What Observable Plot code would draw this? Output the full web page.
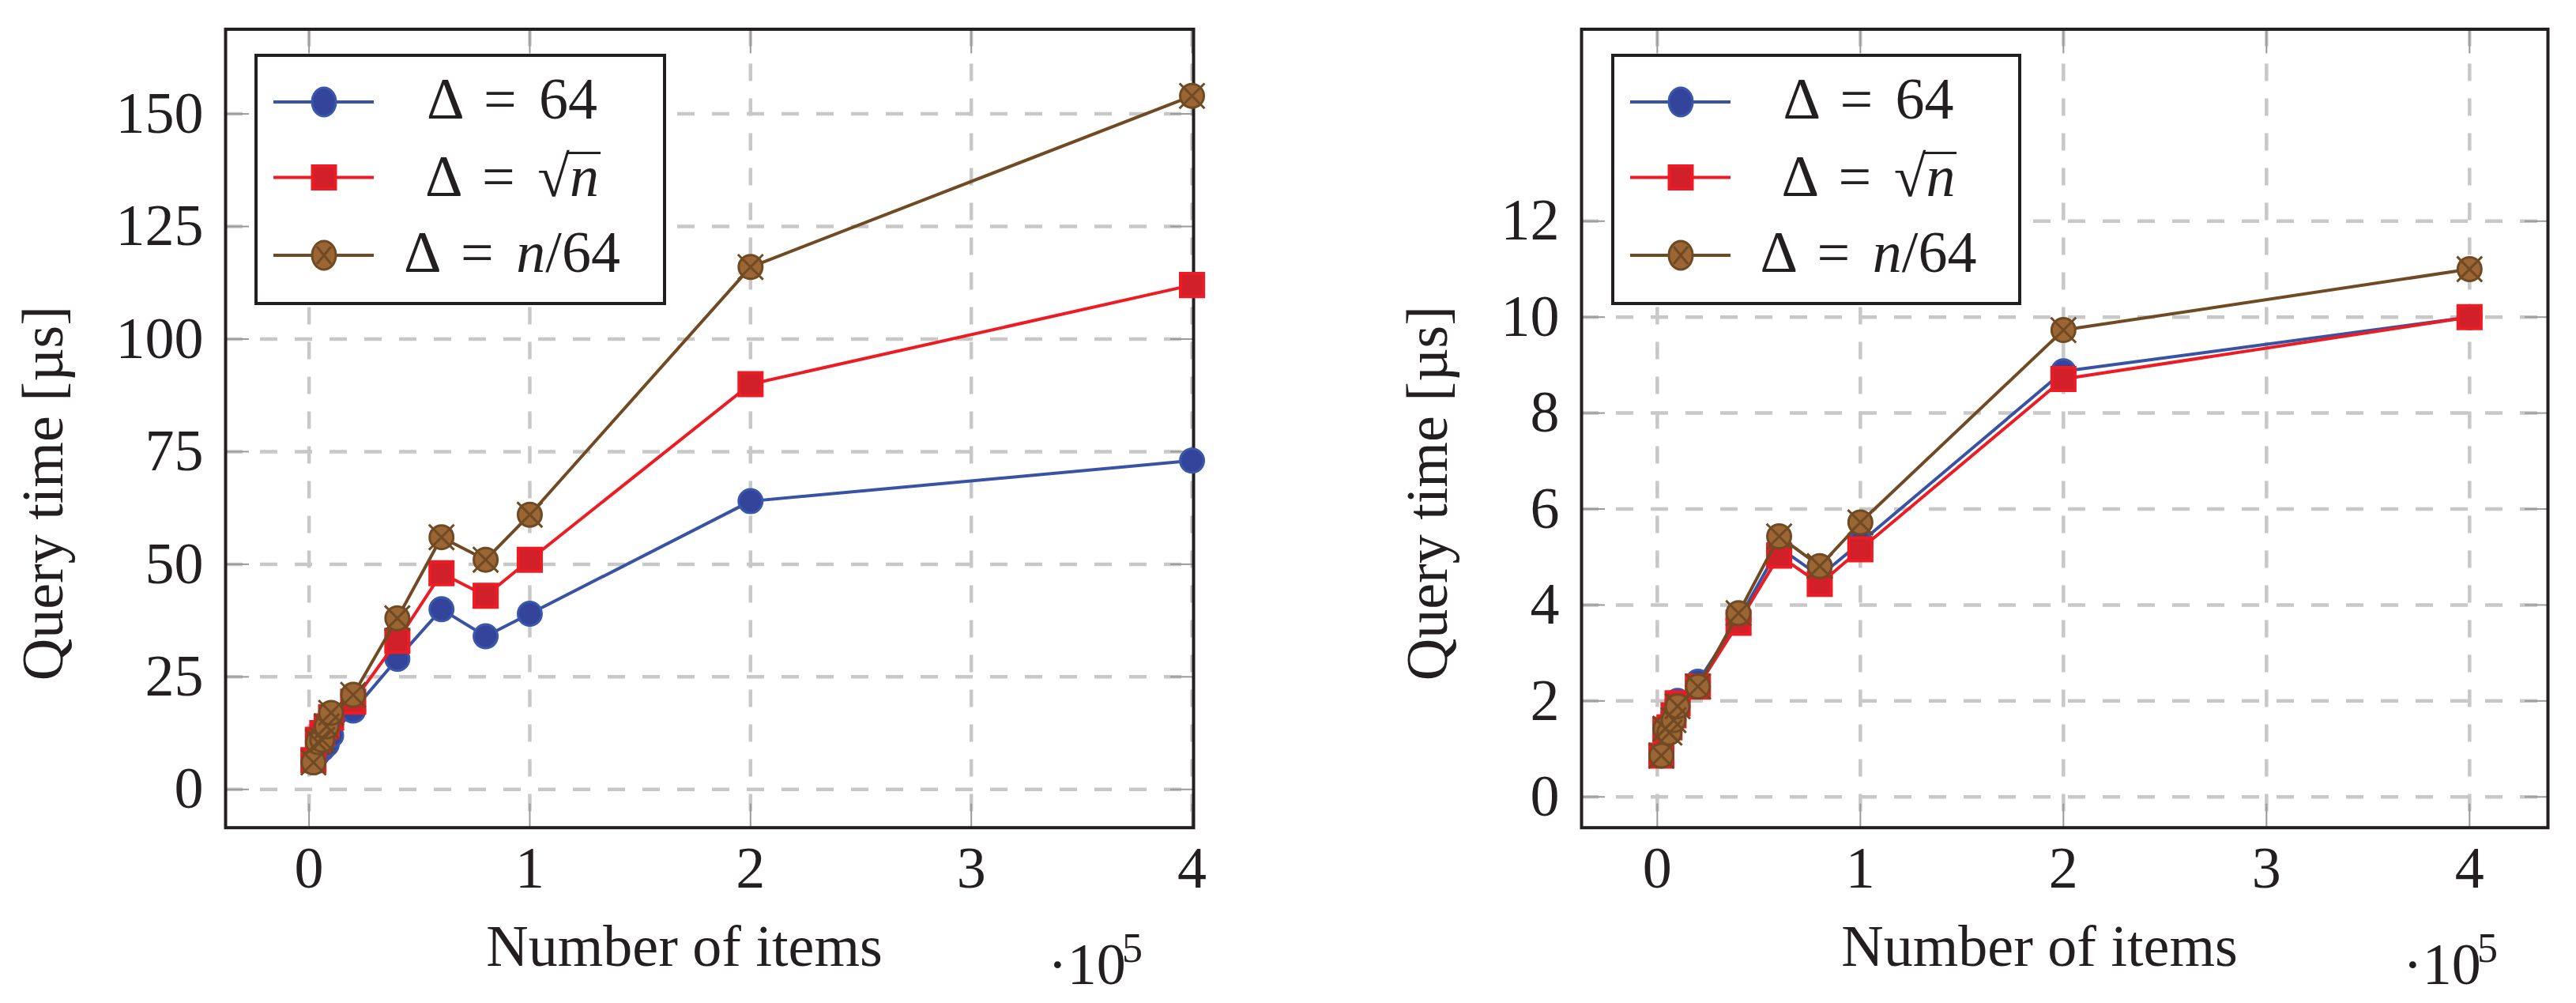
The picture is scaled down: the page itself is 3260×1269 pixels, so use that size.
<!DOCTYPE html>
<html>
<head>
<meta charset="utf-8">
<script src="https://cdn.jsdelivr.net/npm/d3@7"></script>
<script src="https://cdn.jsdelivr.net/npm/@observablehq/plot@0.6"></script>
<style>
  body { margin: 0; background: #fff; }
  #wrap { position: relative; width: 3260px; height: 1269px; overflow: hidden;
          font-family: "Liberation Serif", "DejaVu Serif", serif; color: #231f20; }
  .panel { position: absolute; top: 0; }
  .panel svg text { font-variant-numeric: normal; }
  .legend { position: absolute; top: 68px; height: 318px; border: 4px solid #231f20;
            background: #fff; box-sizing: border-box; }
  .legend svg { position: absolute; left: 0; top: 0; overflow: visible; }
  .ltext { position: absolute; font-size: 74px; line-height: 74px; white-space: nowrap;
           transform: translateX(-50%); word-spacing: 10px; }
  .ov { position: relative; font-style: italic; }
  .ov::before { content: ""; position: absolute; left: -2px; right: -2px; top: 10px;
                border-top: 3.5px solid #231f20; }
  .sci { position: absolute; font-size: 74px; line-height: 74px; white-space: nowrap; }
  .sciexp { position: absolute; font-size: 52px; line-height: 52px; white-space: nowrap; }
</style>
</head>
<body>
<div id="wrap"></div>
<script>
// ---------- data ----------
const items = [2000, 4000, 6000, 8000, 10000, 20000, 40000, 60000, 80000, 100000, 200000, 400000];
const seriesLabels = ["Δ = 64", "Δ = √n", "Δ = n/64"];

// left panel (query time, µs)
const leftDelta64   = [6, 8, 9, 10, 12, 17.5, 29, 40, 34, 39, 64, 73];
const leftDeltaSqrt = [6.5, 11, 12.5, 14, 16, 19.5, 33, 48, 43, 51, 90, 112];
const leftDeltaN64  = [6, 10.5, 11, 14, 17, 21, 38, 56, 51, 61, 116, 154];

// right panel (query time, µs)
const rightDelta64   = [0.9, 1.45, 1.5, 1.75, 2.0, 2.4, 3.7, 5.2, 4.6, 5.3, 8.87, 10.0];
const rightDeltaSqrt = [0.86, 1.4, 1.45, 1.7, 1.95, 2.3, 3.63, 5.03, 4.44, 5.16, 8.71, 10.0];
const rightDeltaN64  = [0.86, 1.42, 1.34, 1.6, 1.89, 2.3, 3.83, 5.43, 4.81, 5.72, 9.73, 11.0];

const xTicks = [0, 100000, 200000, 300000, 400000];
const leftYTicks = [0, 25, 50, 75, 100, 125, 150];
const rightYTicks = [0, 2, 4, 6, 8, 10, 12];

const xLabel = "Number of items";
const yLabel = "Query time [µs]";
const xScaleNote = ["·10", "5"];

// ---------- styles ----------
const lineColors = ["#3853a4", "#ed1c24", "#6f4a23"];
const fillColors = ["#34449b", "#d1202a", "#9b6633"];
const edgeColors = ["#3a58aa", "#ed1c24", "#6f4a23"];
const ink = "#231f20";
const FONT = 74;

function rowsOf(seriesValues) {
  const rows = [];
  seriesValues.forEach((vals, s) => vals.forEach((t, i) => rows.push({n: items[i], t, s})));
  return rows;
}

function makePanel({values, yTicks, xDomain, yDomain, width, marginLeft, marginRight, ylabDx}) {
  const rows = rowsOf(values);
  const tickStyle = {stroke: "#9a9a9a", strokeWidth: 2, tickFormat: () => "", label: null};
  const gridStyle = {stroke: "#c8c8c8", strokeOpacity: 1, strokeWidth: 4.5, strokeDasharray: "22,22"};
  const marks = [
    Plot.gridX(xTicks, gridStyle),
    Plot.gridY(yTicks, gridStyle),
    Plot.axisX(xTicks, {anchor: "bottom", tickSize: 30, dy: -30, ...tickStyle}),
    Plot.axisX(xTicks, {anchor: "top", tickSize: 30, dy: 30, ...tickStyle}),
    Plot.axisY(yTicks, {anchor: "left", tickSize: 30, dx: 30, ...tickStyle}),
    Plot.axisY(yTicks, {anchor: "right", tickSize: 30, dx: -30, ...tickStyle}),
    Plot.axisX(xTicks, {anchor: "bottom", tickSize: 0, tickPadding: 23, tickFormat: d => d / 1e5, fontSize: FONT, label: null}),
    Plot.axisY(yTicks, {anchor: "left", tickSize: 0, tickPadding: 28, tickFormat: d => d, fontSize: FONT, label: null}),
    Plot.frame({stroke: ink, strokeWidth: 4})
  ];
  [0, 1, 2].forEach(s => {
    const data = rows.filter(d => d.s === s);
    marks.push(Plot.line(data, {x: "n", y: "t", stroke: lineColors[s], strokeWidth: 4}));
    if (s === 0) {
      marks.push(Plot.dot(data, {x: "n", y: "t", r: 15, symbol: "circle", fill: fillColors[s], stroke: edgeColors[s], strokeWidth: 3}));
    } else if (s === 1) {
      marks.push(Plot.dot(data, {x: "n", y: "t", r: 16.4, symbol: "square", fill: fillColors[s], stroke: edgeColors[s], strokeWidth: 4}));
    } else {
      marks.push(Plot.dot(data, {x: "n", y: "t", r: 15, symbol: "circle", fill: fillColors[s], stroke: edgeColors[s], strokeWidth: 3}));
      marks.push(Plot.dot(data, {x: "n", y: "t", r: 14.5, symbol: "times", stroke: edgeColors[s], strokeWidth: 3}));
    }
  });
  marks.push(Plot.text([yLabel], {frameAnchor: "left", dx: ylabDx, dy: 82, rotate: -90,
    textAnchor: "middle", lineAnchor: "middle", fontSize: FONT, fill: ink}));
  marks.push(Plot.text([xLabel], {frameAnchor: "bottom", dx: -32, dy: 175,
    textAnchor: "middle", lineAnchor: "bottom", fontSize: FONT, fill: ink}));
  return Plot.plot({
    width, height: 1269,
    marginLeft, marginRight, marginTop: 36.5, marginBottom: 222.3,
    x: {type: "linear", domain: xDomain, label: null},
    y: {type: "linear", domain: yDomain, label: null},
    style: {fontFamily: '"Liberation Serif", serif', fontSize: FONT + "px", color: ink,
            background: "transparent", overflow: "visible"},
    marks
  });
}

const wrap = document.getElementById("wrap");

function place(svg, left, width) {
  const div = document.createElement("div");
  div.className = "panel";
  div.style.left = left + "px";
  div.style.width = width + "px";
  div.appendChild(svg);
  wrap.appendChild(div);
}

place(makePanel({
  values: [leftDelta64, leftDeltaSqrt, leftDeltaN64], yTicks: leftYTicks,
  xDomain: [-37800, 400700], yDomain: [-8.5, 168.8],
  width: 1600, marginLeft: 285, marginRight: 90, ylabDx: -230
}), 0, 1600);

place(makePanel({
  values: [rightDelta64, rightDeltaSqrt, rightDeltaN64], yTicks: rightYTicks,
  xDomain: [-37300, 438600], yDomain: [-0.642, 16.0],
  width: 1620, marginLeft: 361, marginRight: 36, ylabDx: -194.5
}), 1640, 1620);

// ---------- ·10^5 notes ----------
function sciNote(left) {
  const d = document.createElement("div");
  d.className = "sci";
  d.style.left = left + "px";
  d.style.top = (1245 - 62) + "px";
  d.textContent = xScaleNote[0];
  wrap.appendChild(d);
  const e = document.createElement("div");
  e.className = "sciexp";
  e.style.left = (left + 94) + "px";
  e.style.top = "1174px";
  e.textContent = xScaleNote[1];
  wrap.appendChild(e);
}
sciNote(1326);
sciNote(3041);

// ---------- legends ----------
function legendHTML(label) {
  if (label.includes("√")) {
    const [a, b] = label.split("√");
    return `${a}√<span class="ov">${b}</span>`;
  }
  if (label.includes("/")) {
    const [a, b] = label.split("/");
    return a.replace(/n$/, "<i>n</i>") + "/" + b;
  }
  return label;
}

function legend(left, width) {
  const box = document.createElement("div");
  box.className = "legend";
  box.style.left = left + "px";
  box.style.width = width + "px";
  const ns = "http://www.w3.org/2000/svg";
  const svg = document.createElementNS(ns, "svg");
  svg.setAttribute("width", width);
  svg.setAttribute("height", 318);
  const rowY = [57, 152.5, 251];
  const baseY = [78, 176, 272];
  rowY.forEach((cy, s) => {
    const ln = document.createElementNS(ns, "line");
    ln.setAttribute("x1", 20); ln.setAttribute("x2", 147);
    ln.setAttribute("y1", cy); ln.setAttribute("y2", cy);
    ln.setAttribute("stroke", lineColors[s]); ln.setAttribute("stroke-width", 4);
    svg.appendChild(ln);
    if (s === 1) {
      const r = document.createElementNS(ns, "rect");
      r.setAttribute("x", 84 - 14.5); r.setAttribute("y", cy - 14.5);
      r.setAttribute("width", 29); r.setAttribute("height", 29);
      r.setAttribute("fill", fillColors[s]); r.setAttribute("stroke", edgeColors[s]);
      r.setAttribute("stroke-width", 4);
      svg.appendChild(r);
    } else {
      const c = document.createElementNS(ns, "ellipse");
      c.setAttribute("cx", 84); c.setAttribute("cy", cy);
      c.setAttribute("rx", 15); c.setAttribute("ry", 18);
      c.setAttribute("fill", fillColors[s]); c.setAttribute("stroke", edgeColors[s]);
      c.setAttribute("stroke-width", 3);
      svg.appendChild(c);
      if (s === 2) {
        const p = document.createElementNS(ns, "path");
        p.setAttribute("d", `M${84-9},${cy-11}L${84+9},${cy+11}M${84+9},${cy-11}L${84-9},${cy+11}`);
        p.setAttribute("stroke", edgeColors[s]); p.setAttribute("stroke-width", 3);
        svg.appendChild(p);
      }
    }
    const t = document.createElement("div");
    t.className = "ltext";
    t.style.left = "322px";
    t.style.top = (baseY[s] - 62) + "px";
    t.innerHTML = legendHTML(seriesLabels[s]);
    box.appendChild(t);
  });
  box.insertBefore(svg, box.firstChild);
  wrap.appendChild(box);
}
legend(322, 521);
legend(2038.5, 519);
</script>
</body>
</html>
